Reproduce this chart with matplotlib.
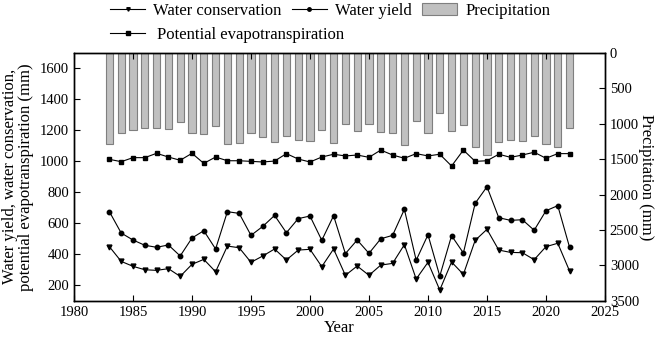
import matplotlib
matplotlib.use("Agg")
import matplotlib.pyplot as plt
from matplotlib.lines import Line2D
from matplotlib.patches import Patch

plt.rcParams['font.family'] = ['Liberation Serif', 'DejaVu Serif']
plt.rcParams['mathtext.fontset'] = 'stix'

years = list(range(1983, 2023))

precipitation = [1286, 1135, 1093, 1060, 1055, 1069, 980, 1126, 1145, 1036,
                 1281, 1267, 1126, 1182, 1258, 1168, 1234, 1248, 1093, 1272,
                 1008, 1107, 1008, 1121, 1135, 1305, 961, 1135, 848, 1107,
                 1022, 1333, 1446, 1262, 1234, 1239, 1177, 1290, 1333, 1055]

pet = [1013, 998, 1024, 1024, 1052, 1028, 1007, 1052, 987, 1028,
       1004, 1004, 1000, 996, 1002, 1050, 1015, 996, 1028, 1046,
       1035, 1041, 1026, 1073, 1041, 1020, 1050, 1035, 1046, 970,
       1073, 1000, 1004, 1046, 1026, 1041, 1059, 1020, 1050, 1050]

water_yield = [675, 537, 492, 458, 445, 460, 389, 505, 552, 434,
               675, 664, 522, 580, 651, 539, 630, 647, 490, 649,
               404, 492, 406, 500, 522, 690, 361, 526, 259, 520,
               408, 729, 836, 636, 619, 623, 555, 681, 714, 445]

water_conservation = [449, 354, 322, 300, 296, 307, 257, 335, 367, 287,
                      453, 442, 348, 389, 434, 363, 427, 432, 320, 434,
                      264, 324, 264, 330, 341, 462, 240, 348, 169, 350,
                      270, 490, 561, 427, 412, 410, 365, 449, 471, 292]

left_ticks = [200, 400, 600, 800, 1000, 1200, 1400, 1600]
right_ticks = [0, 500, 1000, 1500, 2000, 2500, 3000, 3500]
x_ticks = [1980, 1985, 1990, 1995, 2000, 2005, 2010, 2015, 2020, 2025]

fig = plt.figure(figsize=(6.59, 3.45), dpi=100)
ax = fig.add_axes([0.1123, 0.1284, 0.918 - 0.1123, 0.8464 - 0.1284])
ax2 = ax.twinx()

# precipitation bars hanging from top
ax2.bar(years, precipitation, width=0.62, color='#c0c0c0', edgecolor='#7f7f7f',
        linewidth=0.8, zorder=1)
ax2.set_ylim(3500, 0)
ax2.set_yticks(right_ticks)
ax2.tick_params(axis='y', direction='in', length=4, labelsize=10.5, width=0.8)
ax2.set_ylabel('Precipitation (mm)', rotation=270, labelpad=11, fontsize=12)

ax.set_zorder(ax2.get_zorder() + 1)
ax.patch.set_visible(False)

lw = 0.8
ax.plot(years, water_conservation, color='black', lw=lw, marker='v', ms=3.5)
ax.plot(years, water_yield, color='black', lw=lw, marker='o', ms=3.2)
ax.plot(years, pet, color='black', lw=lw, marker='s', ms=3.0)

ax.set_xlim(1980, 2025)
ax.set_ylim(100, 1700)
ax.set_xticks(x_ticks)
ax.set_yticks(left_ticks)
ax.tick_params(axis='both', direction='in', length=4, labelsize=10.5, width=0.8)
ax.tick_params(axis='x', top=True)
ax.set_xlabel('Year', fontsize=12, labelpad=1)
ax.set_ylabel('Water yield, water conservation,\npotential evapotranspiration (mm)',
              fontsize=12, linespacing=1.0, labelpad=4)

for a in (ax, ax2):
    for s in a.spines.values():
        s.set_linewidth(1.0)

h_wc = Line2D([], [], color='black', lw=lw, marker='v', ms=2.5)
h_wy = Line2D([], [], color='black', lw=lw, marker='o', ms=2.5)
h_pr = Patch(facecolor='#c0c0c0', edgecolor='#7f7f7f', linewidth=0.8)
h_pet = Line2D([], [], color='black', lw=lw, marker='s', ms=2.2)

leg1 = fig.legend([h_wc, h_wy, h_pr], ['Water conservation', 'Water yield', 'Precipitation'],
                  ncol=3, loc='upper left', bbox_to_anchor=(0.167, 0.991), frameon=False,
                  fontsize=12, handlelength=2.1, handletextpad=0.5, columnspacing=0.6,
                  borderaxespad=0, borderpad=0)
leg2 = fig.legend([h_pet], ['Potential evapotranspiration'],
                  loc='upper left', bbox_to_anchor=(0.167, 0.922), frameon=False,
                  fontsize=12, handlelength=2.1, handletextpad=0.7, borderaxespad=0,
                  borderpad=0)

fig.savefig('out.png', dpi=100)
